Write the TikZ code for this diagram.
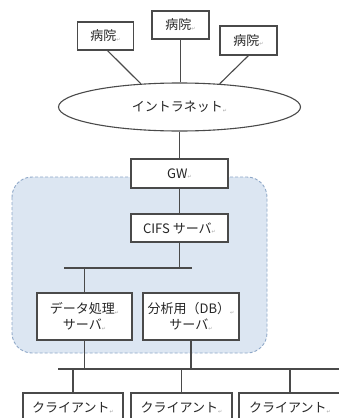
\documentclass[tikz,border=0pt]{standalone}
\usepackage{fontspec}
\newfontfamily\jpfont{Noto Sans CJK JP}
\newfontfamily\symfont{DejaVu Sans}
\usetikzlibrary{shapes.geometric}
\definecolor{linec}{HTML}{4A4A4A}
\definecolor{groupfill}{HTML}{DCE6F2}
\definecolor{groupdash}{HTML}{8FA8C8}
\newcommand\pmark{{\symfont\fontsize{5}{5}\selectfont\color{gray!70}\raisebox{-0.5pt}{↵}}}
\tikzset{
  box/.style={draw=linec, line width=1.1pt, fill=white, inner sep=0pt, align=center,
    font=\jpfont\fontsize{13}{16}\selectfont, text=black!85},
  conn/.style={draw=linec, line width=1.1pt},
}
\begin{document}
\begin{tikzpicture}[x=1pt,y=-1pt]
\useasboundingbox (0,0) rectangle (339,418);
\clip (0,0) rectangle (339,418);
% group
\draw[fill=groupfill, draw=groupdash, dash pattern=on 3pt off 2pt, line width=0.9pt, rounded corners=20pt]
  (12,177) rectangle (267,353);
% hospitals
\node[box, minimum width=56pt, minimum height=28pt] (h1) at (105.5,36) {病院\pmark};
\node[box, minimum width=57pt, minimum height=28pt] (h2) at (180.5,25) {病院\pmark};
\node[box, minimum width=57pt, minimum height=29pt] (h3) at (248.5,40.5) {病院\pmark};
% intranet
\node[box, ellipse, minimum width=242pt, minimum height=48pt] (ell) at (179.5,107) {イントラネット\pmark};
% gw & cifs
\node[box, minimum width=97pt, minimum height=29pt] (gw) at (179.5,173.5) {GW\pmark};
\node[box, minimum width=97pt, minimum height=28pt] (cifs) at (179.5,228) {CIFS サーバ\pmark};
% servers
\node[box, minimum width=95pt, minimum height=47pt] (data) at (84.5,316.5) {データ処理\pmark\\サーバ\pmark};
\node[box, minimum width=96pt, minimum height=47pt] (ana) at (191,316.5) {分析用（DB）\pmark\\サーバ\pmark};
% clients
\node[box, minimum width=100pt, minimum height=30pt] (c1) at (73,408) {クライアント\pmark};
\node[box, minimum width=101pt, minimum height=30pt] (c2) at (181.5,408) {クライアント\pmark};
\node[box, minimum width=102pt, minimum height=30pt] (c3) at (290,408) {クライアント\pmark};
% bus coordinates
\coordinate (b1L) at (64,268);
\coordinate (b1R) at (192,268);
\coordinate (b2L) at (58,369);
\coordinate (b2R) at (339,369);
% connectors
\draw[conn] (h1.south) ++(2,0) -- (ell.149);
\draw[conn] (h2.south) -- (h2.south |- ell.north);
\draw[conn] (h3.south) -- (ell.30);
\draw[conn] (ell.south) -- (gw.north);
\draw[conn] (gw.south) -- (cifs.north);
\draw[conn] (cifs.south) -- (cifs.south |- b1L);
\draw[conn] (b1L) -- (b1R);
\draw[conn] (data.north |- b1L) -- (data.north);
\draw[conn] (data.south) -- (data.south |- b2L);
\draw[conn] (ana.south) -- (ana.south |- b2L);
\draw[conn] (b2L) -- (b2R);
\draw[conn] (c1.north |- b2L) -- (c1.north);
\draw[conn] (c2.north |- b2L) -- (c2.north);
\draw[conn] (c3.north |- b2L) -- (c3.north);
\end{tikzpicture}
\end{document}
